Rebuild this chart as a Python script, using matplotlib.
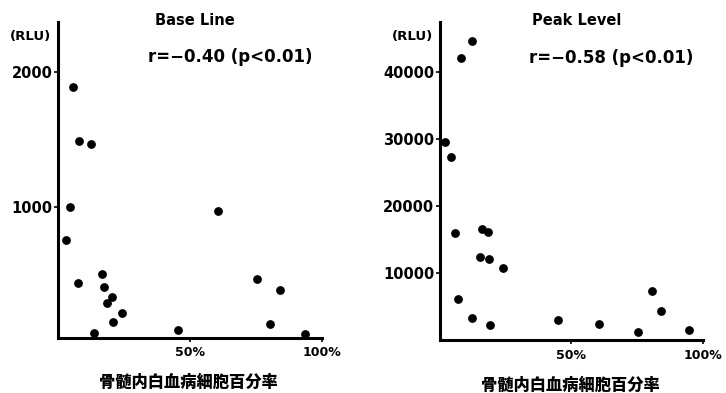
import matplotlib
matplotlib.use("Agg")
import matplotlib.pyplot as plt

plt.rcParams['font.family'] = ['DejaVu Sans', 'Noto Sans CJK JP']
plt.rcParams['font.weight'] = 'bold'

# 骨髄内白血病細胞百分率 (%) と発光量 (RLU)
base_pct = [5.6, 8.0, 12.4, 4.5, 2.9, 7.5, 16.6, 17.4, 20.3, 18.4,
            24.4, 20.7, 13.8, 45.5, 60.7, 75.4, 84.0, 80.3, 93.6]
base_rlu = [1890, 1490, 1470, 1000, 755, 440, 505, 405, 330, 290,
            215, 145, 65, 90, 970, 465, 385, 135, 60]

peak_pct = [12.3, 7.9, 1.9, 4.1, 5.6, 6.8, 16.1, 18.4, 15.2, 18.6,
            24.0, 12.3, 18.9, 45.1, 60.5, 80.5, 84.0, 75.3, 94.6]
peak_rlu = [44600, 42000, 29500, 27300, 15900, 6100, 16600, 16100, 12350, 12050,
            10700, 3300, 2300, 3000, 2400, 7400, 4350, 1200, 1600]

panels = [
    ("Base Line", "r=\u22120.40 (p<0.01)", base_pct, base_rlu, [1000, 2000], (30, 2370),
     [0.0799, 0.140, 0.3636, 0.804]),
    ("Peak Level", "r=\u22120.58 (p<0.01)", peak_pct, peak_rlu, [10000, 20000, 30000, 40000], (0, 47370),
     [0.606, 0.134, 0.362, 0.810]),
]

fig = plt.figure(figsize=(7.26, 3.93), dpi=100)

for title, rtext, xs, ys, yticks, ylim, pos in panels:
    ax = fig.add_axes(pos)
    ax.scatter(xs, ys, s=28, color='black', zorder=3, clip_on=False)
    ax.set_xlim(0, 100)
    ax.set_ylim(*ylim)
    ax.set_xticks([50, 100])
    ax.set_xticklabels(['50%', '100%'])
    ax.set_yticks(yticks)
    ax.set_yticklabels([str(v) for v in yticks])
    for side in ['top', 'right']:
        ax.spines[side].set_visible(False)
    for side in ['left', 'bottom']:
        ax.spines[side].set_linewidth(2.2)
    ax.tick_params(axis='y', direction='out', length=3, width=1.2, labelsize=10.5, pad=1)
    ax.tick_params(axis='x', direction='out', length=3, width=1.2, labelsize=9, pad=3)
    for lab in ax.get_xticklabels() + ax.get_yticklabels():
        lab.set_fontweight('bold')

    ax.text(0.52, 1.006, title, transform=ax.transAxes, ha='center', va='center',
            fontsize=10.5, fontweight='bold')
    ax.text(0.34, 0.888, rtext, transform=ax.transAxes, ha='left', va='center',
            fontsize=12, fontweight='bold')
    ax.text(-0.106, 0.953, "(RLU)", transform=ax.transAxes, ha='center', va='center',
            fontsize=9.5, fontweight='bold')
    ax.text(0.495, -0.139, "骨髄内白血病細胞百分率", transform=ax.transAxes, ha='center',
            va='center', fontsize=11.7, fontweight='heavy',
            family=['Noto Sans CJK JP', 'DejaVu Sans'])

fig.savefig("out.png", dpi=100)
